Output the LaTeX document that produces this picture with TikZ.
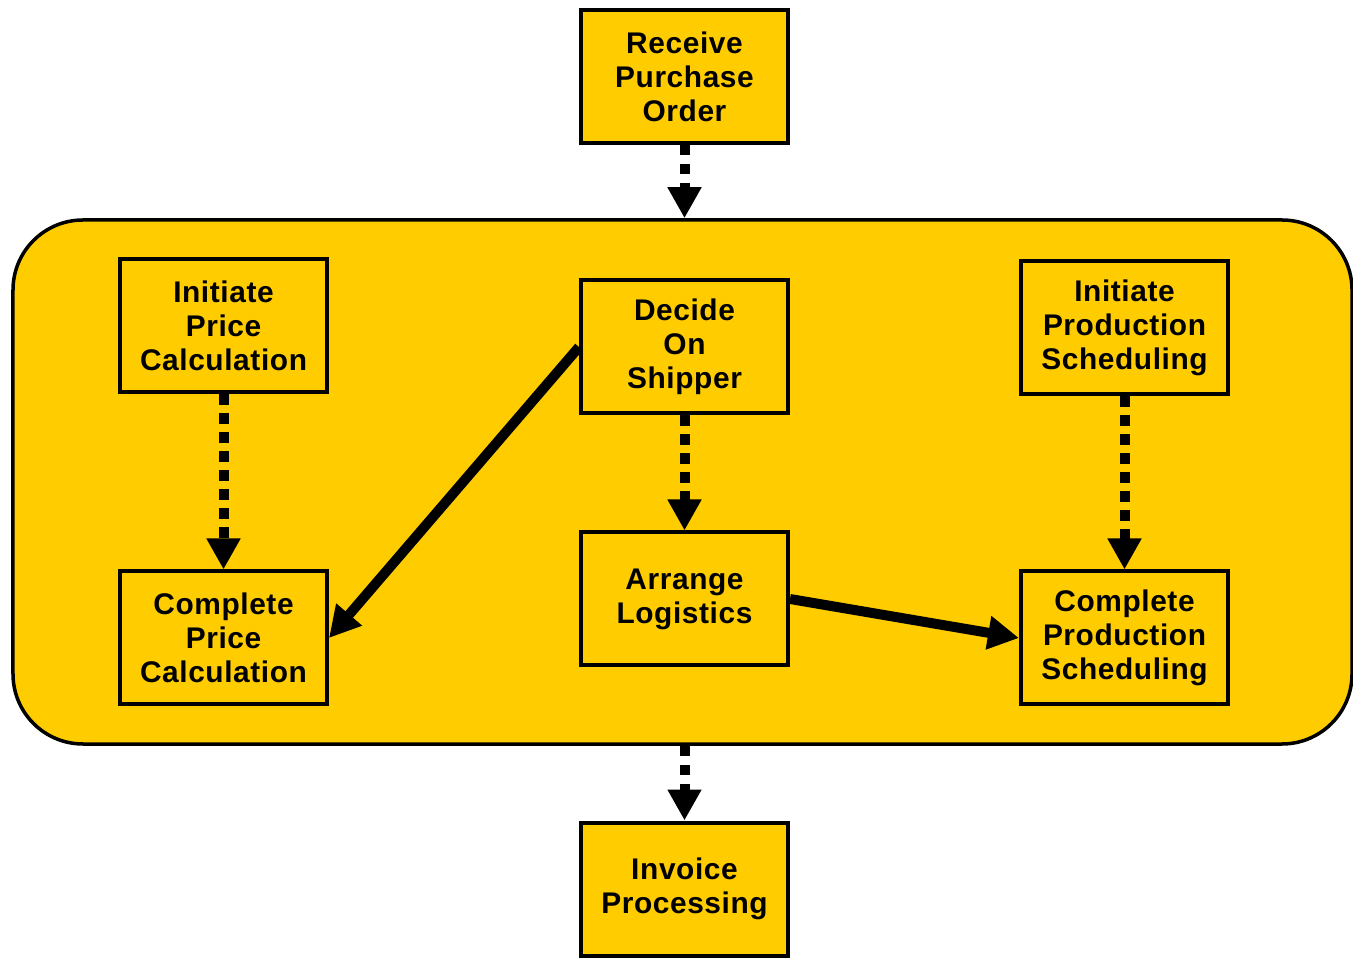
\documentclass[tikz,border=0pt]{standalone}
\usepackage{fontspec}
\setmainfont[LetterSpace=2]{Liberation Sans}
\usetikzlibrary{arrows.meta,positioning,calc}
\usepackage{xcolor}
\definecolor{flowgold}{RGB}{255,204,0}

\begin{document}
\begin{tikzpicture}[font=\fontsize{17}{19.4}\selectfont\bfseries,
  >={Triangle[length=6.2mm, width=6.4mm]},
  task/.style={draw=black, fill=flowgold, line width=0.8mm, align=center,
               minimum width=41.4mm, minimum height=26.6mm, inner sep=0pt},
  group/.style={draw=black, fill=flowgold, line width=0.7mm, rounded corners=14mm,
                minimum width=267.8mm, minimum height=104.8mm},
  seq/.style={->, line width=2mm, dash pattern=on 2.1mm off 1.7mm},
  link/.style={->, line width=2mm}]
\useasboundingbox (0,0) rectangle (27.06,19.14);
\node[group] (g) at (13.65,9.5) {};
\node[task] (recv) at (13.69,17.61) {Receive\\Purchase\\Order};
\node[task] (ipc)  at (4.47,12.62)  {Initiate\\Price\\Calculation};
\node[task] (dos)  at (13.69,12.20) {Decide\\On\\Shipper};
\node[task] (ips)  at (22.49,12.58) {Initiate\\Production\\Scheduling};
\node[task] (cpc)  at (4.47,6.38)   {Complete\\Price\\Calculation};
\node[task] (arl)  at (13.69,7.16)  {Arrange\\Logistics};
\node[task] (cps)  at (22.49,6.38)  {Complete\\Production\\Scheduling};
\node[task] (inv)  at (13.69,1.36)  {Invoice\\Processing};
% sequence flows
\foreach \a/\b in {ipc/cpc,dos/arl,ips/cps}{\draw[seq] (\a.south) -- (\b.north);}
\draw[seq] (recv.south) -- (recv.south |- g.north);
\draw[seq] (inv.north |- g.south) -- (inv.north);
% message links
\draw[link] (dos.west) -- (cpc.east);
\draw[link] (arl.east) -- (cps.west);
\end{tikzpicture}
\end{document}
